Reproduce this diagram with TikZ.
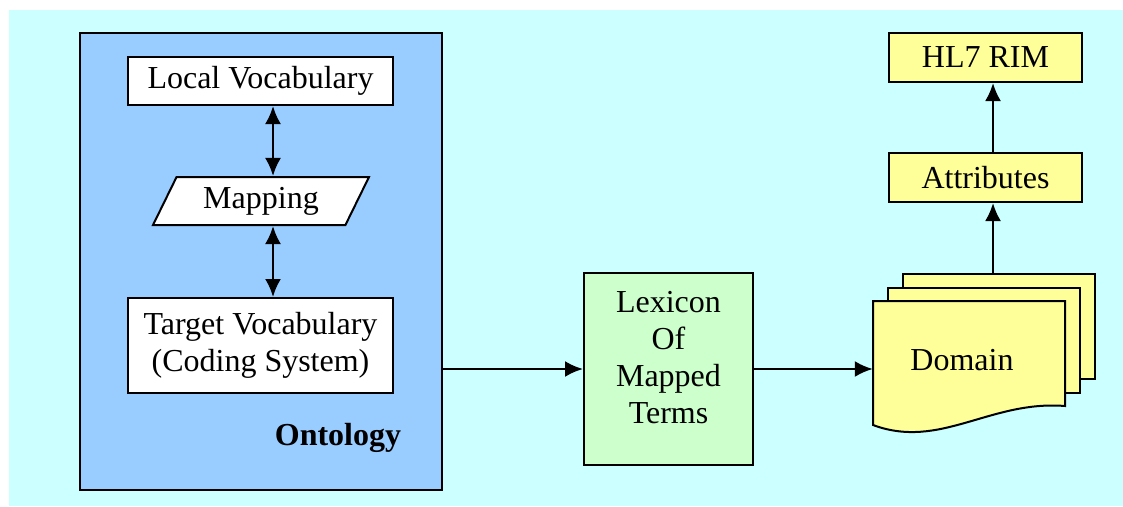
\documentclass[tikz,border=0pt]{standalone}
\usepackage{fontspec}
\setmainfont{Liberation Serif}
\usetikzlibrary{arrows.meta,shapes.geometric}
\definecolor{bgcyan}{HTML}{CCFFFF}
\definecolor{ontoblue}{HTML}{99CCFF}
\definecolor{lexgreen}{HTML}{CCFFCC}
\definecolor{rimyellow}{HTML}{FFFF99}

\begin{document}
\begin{tikzpicture}[x=1pt,y=-1pt,
    every node/.style={font=\fontsize{32}{37}\selectfont, inner sep=0pt, align=center},
    box/.style={draw, line width=2pt, fill=white, rectangle},
    page/.style={draw, line width=2pt, fill=rimyellow},
    link/.style={line width=2.4pt, -{Latex[length=18pt,width=16pt]}},
    twoway/.style={line width=2.4pt, {Latex[length=18pt,width=16pt]}-{Latex[length=18pt,width=16pt]}}]
\useasboundingbox (0,0) rectangle (1123,506);
\fill[bgcyan] (9,10) rectangle (1123,506);

% Ontology
\node[box, fill=ontoblue, minimum width=362, minimum height=457] (ontology) at (261,261.5) {};
\node[font=\bfseries\fontsize{32}{37}\selectfont] (ontolabel) at (338,438) {Ontology};
\node[box, minimum width=265, minimum height=48] (localvoc) at (260.5,81) {Local Vocabulary};
\node[draw, line width=2pt, fill=white, trapezium, trapezium left angle=50,
    trapezium right angle=130, trapezium stretches body=true,
    minimum width=216, minimum height=48] (mapping) at (261,201) {Mapping};
\node[box, minimum width=265, minimum height=95] (targetvoc) at (260.5,345.5)
    {Target Vocabulary\\(Coding System)};
\coordinate (vx) at (273,0);
\draw[twoway] (localvoc.south -| vx) -- (mapping.north -| vx);
\draw[twoway] (mapping.south -| vx) -- (targetvoc.north -| vx);

% Lexicon
\node[box, fill=lexgreen, minimum width=169, minimum height=192,
    label={[yshift=11pt]center:{Lexicon\\Of\\Mapped\\Terms}}] (lexicon) at (668.5,369) {};

% Domain pages
\foreach \s in {2,1}
    \draw[page] ({873+15*\s},{301-13.5*\s}) rectangle ++(192,105);
\draw[page] (873,301) -- (1065,301) -- (1065,406)
    .. controls (990,400) and (940,450) .. (873,425) -- cycle;
\node[minimum width=178, minimum height=118] (domain) at (962,360) {Domain};
\coordinate (stacktop) at (993,274);

% HL7 side
\node[box, fill=rimyellow, minimum width=193, minimum height=49] (attributes) at (985.5,177.5) {Attributes};
\node[box, fill=rimyellow, minimum width=193, minimum height=49] (hlrim) at (985.5,57.5) {HL7 RIM};

\draw[link] (ontology.east |- lexicon.west) -- (lexicon.west);
\draw[link] (lexicon.east) -- (lexicon.east -| domain.west);
\draw[link] (stacktop) -- (stacktop |- attributes.south);
\draw[link] (attributes.north -| stacktop) -- (hlrim.south -| stacktop);
\end{tikzpicture}
\end{document}
